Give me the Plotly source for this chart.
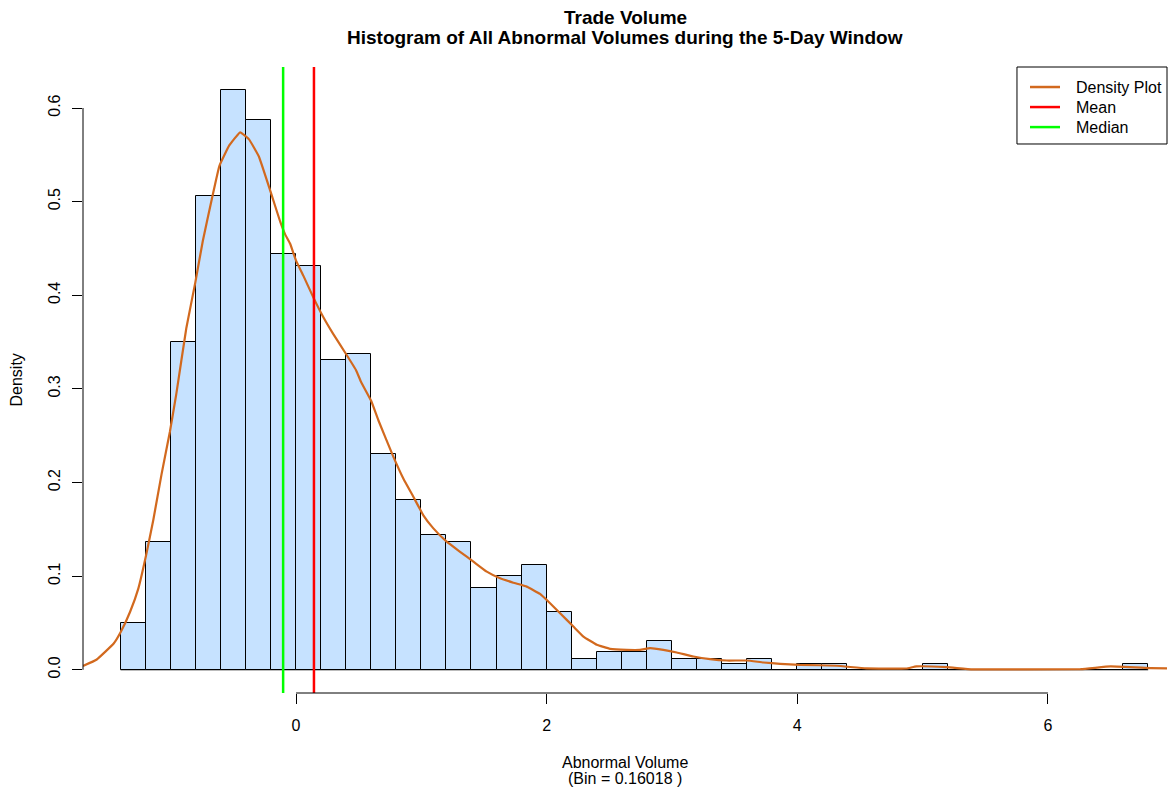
import plotly.graph_objects as go

# Histogram bins (left edges, width 0.2) and densities
bin_starts = [-1.4, -1.2, -1.0, -0.8, -0.6, -0.4, -0.2, 0.0, 0.2, 0.4,
              0.6, 0.8, 1.0, 1.2, 1.4, 1.6, 1.8, 2.0, 2.2, 2.4,
              2.6, 2.8, 3.0, 3.2, 3.4, 3.6, 3.8, 4.0, 4.2, 4.4,
              4.6, 4.8, 5.0, 5.2, 5.4, 5.6, 5.8, 6.0, 6.2, 6.4, 6.6]
bin_width = 0.2
densities = [0.050, 0.137, 0.350, 0.506, 0.619, 0.587, 0.444, 0.431, 0.331, 0.337,
             0.231, 0.181, 0.144, 0.137, 0.087, 0.100, 0.112, 0.062, 0.012, 0.019,
             0.019, 0.031, 0.012, 0.012, 0.006, 0.012, 0.000, 0.006, 0.006, 0.000,
             0.000, 0.000, 0.006, 0.000, 0.000, 0.000, 0.000, 0.000, 0.000, 0.000, 0.006]

# Kernel density estimate
kde_x = [-1.70, -1.59, -1.455, -1.40, -1.324, -1.258, -1.197, -1.139, -1.073, -1.007,
         -0.955, -0.876, -0.804, -0.744, -0.665, -0.612, -0.533, -0.446, -0.375, -0.296,
         -0.204, -0.125, -0.087, -0.047, 0.0, 0.058, 0.137, 0.216, 0.295, 0.40,
         0.479, 0.52, 0.60, 0.657, 0.777, 0.857, 0.936, 1.016, 1.096, 1.202,
         1.309, 1.415, 1.522, 1.628, 1.734, 1.841, 1.947, 2.027, 2.107, 2.213,
         2.293, 2.40, 2.506, 2.639, 2.745, 2.825, 2.931, 3.038, 3.171, 3.304,
         3.437, 3.597, 3.73, 3.863, 4.02, 4.315, 4.55, 4.87, 4.95, 5.19,
         5.40, 6.26, 6.50, 6.82, 6.95]
kde_y = [0.004, 0.011, 0.028, 0.040, 0.062, 0.087, 0.122, 0.160, 0.209, 0.254,
         0.295, 0.3645, 0.4135, 0.458, 0.507, 0.538, 0.560, 0.574, 0.5665, 0.548,
         0.511, 0.478, 0.465, 0.455, 0.437, 0.421, 0.398, 0.377, 0.359, 0.337,
         0.320, 0.307, 0.287, 0.2665, 0.2274, 0.204, 0.1848, 0.165, 0.151, 0.1368,
         0.126, 0.1155, 0.1048, 0.0977, 0.093, 0.0888, 0.081, 0.0711, 0.0604, 0.0462,
         0.0355, 0.0267, 0.0224, 0.0213, 0.0213, 0.0231, 0.0213, 0.0185, 0.0142, 0.0114,
         0.0099, 0.0099, 0.0078, 0.0064, 0.0053, 0.0043, 0.0014, 0.0014, 0.0036, 0.0028,
         0.0005, 0.0007, 0.0036, 0.0018, 0.0014]

mean_value = 0.143
median_value = -0.103

x_ticks = [0, 2, 4, 6]
y_ticks = [0.0, 0.1, 0.2, 0.3, 0.4, 0.5, 0.6]

x_range = [-1.70, 6.95]
y_range = [-0.0248, 0.6438]

legend_labels = ["Density Plot", "Mean", "Median"]

FONT = "Liberation Sans, Arial, sans-serif"
BAR_FILL = "#C6E2FF"
KDE_COLOR = "#D2691E"
MEAN_COLOR = "#FF0000"
MEDIAN_COLOR = "#00FF00"
legend_colors = [KDE_COLOR, MEAN_COLOR, MEDIAN_COLOR]

centers = [s + bin_width / 2 for s in bin_starts]

fig = go.Figure()

fig.add_trace(go.Bar(
    x=centers, y=densities, width=bin_width,
    marker=dict(color=BAR_FILL, line=dict(color="black", width=1)),
    showlegend=False, hoverinfo="skip",
))

fig.add_trace(go.Scatter(
    x=kde_x, y=kde_y, mode="lines", name=legend_labels[0], showlegend=False,
    line=dict(color=KDE_COLOR, width=2.2, shape="spline", smoothing=0.3),
))

fig.add_trace(go.Scatter(
    x=[mean_value, mean_value], y=y_range, mode="lines", name=legend_labels[1],
    showlegend=False, line=dict(color=MEAN_COLOR, width=2.5),
))

fig.add_trace(go.Scatter(
    x=[median_value, median_value], y=y_range, mode="lines", name=legend_labels[2],
    showlegend=False, line=dict(color=MEDIAN_COLOR, width=2.5),
))

# Axis lines spanning only the tick range, plus the histogram baseline
shapes = [
    dict(type="line", xref="paper", yref="y", x0=0, x1=0, y0=y_ticks[0], y1=y_ticks[-1],
         line=dict(color="black", width=1)),
    dict(type="line", xref="x", yref="paper", x0=x_ticks[0], x1=x_ticks[-1], y0=0, y1=0,
         line=dict(color="black", width=1)),
    dict(type="line", xref="x", yref="y", x0=bin_starts[0], x1=bin_starts[-1] + bin_width,
         y0=0, y1=0, line=dict(color="black", width=1), layer="below"),
]

annotations = [
    dict(text="<b>Trade Volume</b>", xref="paper", yref="paper", x=0.5, y=1,
         yshift=62, showarrow=False, font=dict(size=19, family=FONT, color="black")),
    dict(text="<b>Histogram of All Abnormal Volumes during the 5-Day Window</b>",
         xref="paper", yref="paper", x=0.5, y=1, yshift=42, showarrow=False,
         font=dict(size=19, family=FONT, color="black")),
    dict(text="Abnormal Volume", xref="paper", yref="paper", x=0.5, y=0,
         yshift=-80, showarrow=False, font=dict(size=16, family=FONT, color="black")),
    dict(text="(Bin = 0.16018 )", xref="paper", yref="paper", x=0.5, y=0,
         yshift=-96, showarrow=False, font=dict(size=16, family=FONT, color="black")),
    dict(text="Density", xref="paper", yref="paper", x=0, y=0.5, xshift=-78,
         textangle=-90, showarrow=False, font=dict(size=16, family=FONT, color="black")),
]

# Boxed legend in the top-right corner of the plotting region
box_left, box_bottom = 0.8616, 0.877
shapes.append(dict(type="rect", xref="paper", yref="paper",
                   x0=box_left, x1=1.0, y0=box_bottom, y1=1.0,
                   line=dict(color="black", width=1), fillcolor="white"))
entry_y = [0.968, 0.936, 0.904]
for label, color, ey in zip(legend_labels, legend_colors, entry_y):
    shapes.append(dict(type="line", xref="paper", yref="paper",
                       x0=0.8736, x1=0.9013, y0=ey, y1=ey,
                       line=dict(color=color, width=2.5)))
    annotations.append(dict(text=label, xref="paper", yref="paper", x=0.9142, y=ey,
                            xanchor="left", yanchor="middle", showarrow=False,
                            font=dict(size=16, family=FONT, color="black")))

fig.update_layout(
    width=1169, height=792,
    margin=dict(l=83, r=2, t=67, b=99),
    paper_bgcolor="white", plot_bgcolor="white",
    font=dict(family=FONT, size=16, color="black"),
    bargap=0,
    showlegend=False,
    shapes=shapes,
    annotations=annotations,
    xaxis=dict(
        range=x_range, tickvals=x_ticks, ticktext=[str(v) for v in x_ticks],
        ticks="outside", ticklen=10, tickcolor="black", tickwidth=1,
        showgrid=False, zeroline=False, showline=False,
        tickfont=dict(size=16, family=FONT, color="black"),
        ticklabelstandoff=8,
    ),
    yaxis=dict(
        range=y_range, tickvals=y_ticks, ticktext=[f"{v:.1f}" for v in y_ticks],
        ticks="outside", ticklen=10, tickcolor="black", tickwidth=1,
        showgrid=False, zeroline=False, showline=False, tickangle=-90,
        tickfont=dict(size=16, family=FONT, color="black"),
        ticklabelstandoff=6,
    ),
)

fig.write_html("out.html")
